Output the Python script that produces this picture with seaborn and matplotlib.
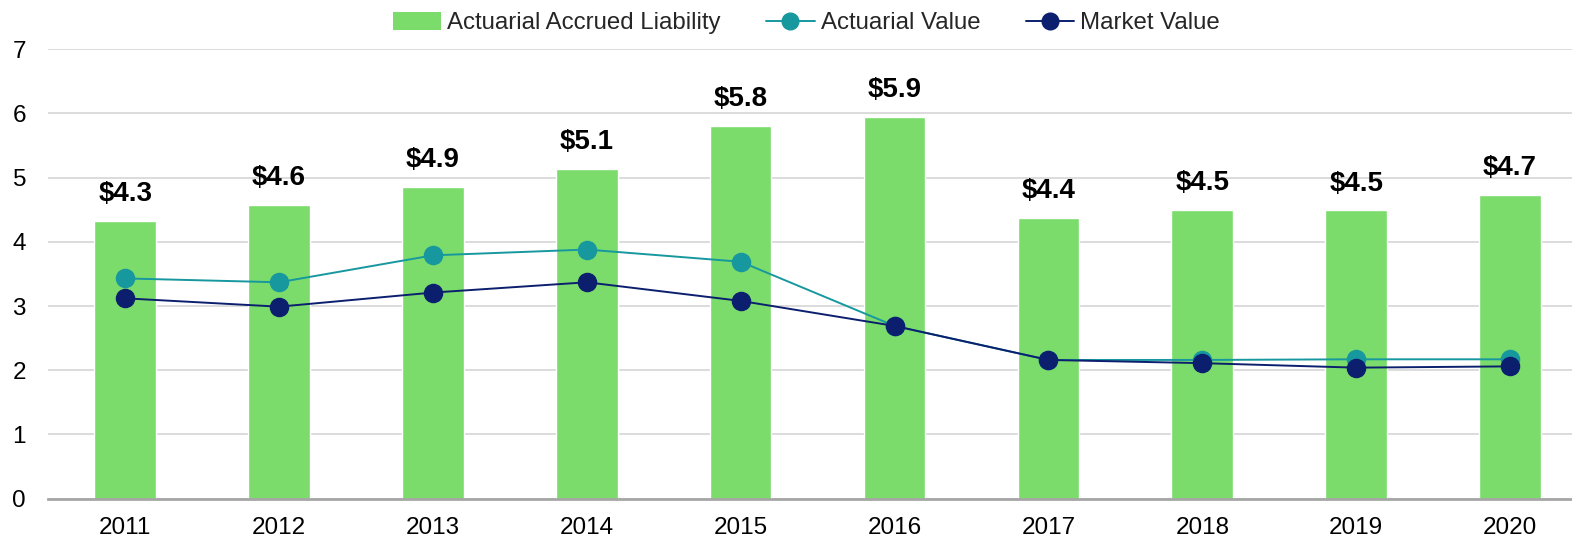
import matplotlib
matplotlib.use("Agg")
import matplotlib.pyplot as plt
import seaborn as sns
import pandas as pd
from matplotlib.lines import Line2D
from matplotlib.patches import Patch

years = ["2011", "2012", "2013", "2014", "2015", "2016", "2017", "2018", "2019", "2020"]
liability = [4.32, 4.57, 4.86, 5.13, 5.80, 5.94, 4.37, 4.50, 4.49, 4.73]
actuarial_value = [3.43, 3.37, 3.79, 3.88, 3.69, 2.69, 2.16, 2.16, 2.17, 2.17]
market_value = [3.12, 2.99, 3.21, 3.37, 3.08, 2.69, 2.16, 2.11, 2.04, 2.06]
yticks = [0, 1, 2, 3, 4, 5, 6, 7]

GREEN = "#7BDC6C"
TEAL = "#17989F"
NAVY = "#0B1F6E"

sns.set_theme(style="white")
plt.rcParams["font.family"] = ["Liberation Sans", "DejaVu Sans"]

df = pd.DataFrame({"year": years, "liability": liability,
                   "actuarial": actuarial_value, "market": market_value})

fig = plt.figure(figsize=(15.72, 5.40), dpi=100)
ax = fig.add_axes([0.0307, 0.0767, 0.9788, 0.832])

sns.barplot(data=df, x="year", y="liability", color=GREEN, saturation=1,
            width=0.40, ax=ax, zorder=2)
sns.pointplot(data=df, x="year", y="actuarial", color=TEAL, markers="o",
              linestyles="-", markersize=13, linewidth=1.4, ax=ax, zorder=3)
sns.pointplot(data=df, x="year", y="market", color=NAVY, markers="o",
              linestyles="-", markersize=13, linewidth=1.4, ax=ax, zorder=4)

ax.bar_label(ax.containers[0], labels=[f"${v:.1f}" for v in liability],
             padding=10, fontsize=20, fontweight="bold", color="black")

ax.set_ylim(0, 7)
ax.set_yticks(yticks)
ax.set_xlim(-0.5, len(years) - 0.5)
ax.set_xlabel("")
ax.set_ylabel("")
ax.grid(axis="y", color="#D9D9D9", linewidth=1.3, zorder=0)
ax.set_axisbelow(True)
for s in ["top", "right", "left"]:
    ax.spines[s].set_visible(False)
ax.spines["bottom"].set_color("#A6A6A6")
ax.spines["bottom"].set_linewidth(2)
ax.spines["bottom"].set_zorder(5)
ax.tick_params(axis="y", length=0, pad=16, labelsize=17.5, labelcolor="black")
ax.tick_params(axis="x", length=0, pad=13, labelsize=17.5, labelcolor="black")

handles = [
    Patch(facecolor=GREEN, edgecolor="none"),
    Line2D([], [], color=TEAL, marker="o", markersize=12, linewidth=1.4),
    Line2D([], [], color=NAVY, marker="o", markersize=12, linewidth=1.4),
]
labels = ["Actuarial Accrued Liability", "Actuarial Value", "Market Value"]
fig.legend(handles, labels, loc="center", bbox_to_anchor=(0.513, 0.957), ncol=3,
           frameon=False, fontsize=17.3, handlelength=2.0, handleheight=0.75,
           handletextpad=0.25, columnspacing=1.9)

fig.savefig("out.png", dpi=100)
